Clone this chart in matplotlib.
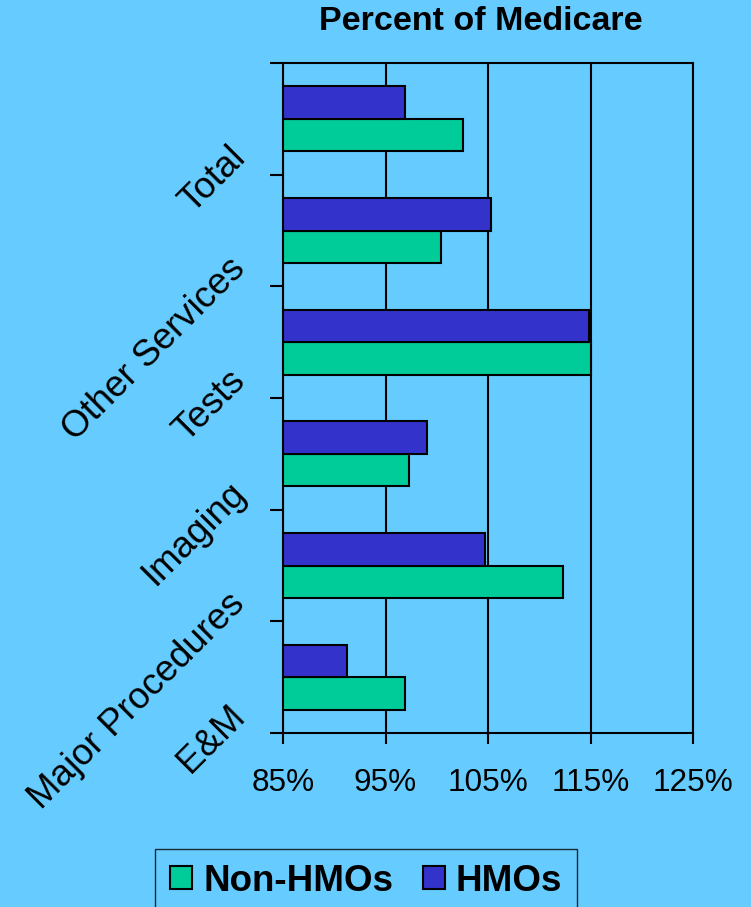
import matplotlib.pyplot as plt
import numpy as np

plt.rcParams["font.family"] = ["Liberation Sans", "DejaVu Sans"]

# data, bottom to top
categories = ["E&M", "Major Procedures", "Imaging", "Tests", "Other Services", "Total"]
non_hmo = [96.9, 112.3, 97.3, 115.0, 100.4, 102.6]
hmo = [91.2, 104.7, 99.0, 114.9, 105.3, 96.9]
xticks = [85, 95, 105, 115, 125]
xtick_labels = ["85%", "95%", "105%", "115%", "125%"]

bg = "#66CCFF"
green = "#00CC99"
blue = "#3333CC"

fig = plt.figure(figsize=(7.51, 9.07), dpi=100, facecolor=bg)
ax = fig.add_axes([283/751, 1-733/907, 410/751, 670/907])
ax.set_facecolor(bg)

y = np.arange(len(categories))
h = 0.29
base = 85
b1 = ax.barh(y - h/2, np.array(non_hmo) - base, height=h, left=base,
             color=green, edgecolor="black", linewidth=1.5, zorder=3)
b2 = ax.barh(y + h/2, np.array(hmo) - base, height=h, left=base,
             color=blue, edgecolor="black", linewidth=1.5, zorder=3)

ax.set_xlim(85, 125)
ax.set_ylim(-0.5, len(categories) - 0.5)
ax.set_xticks(xticks)
ax.set_xticklabels(xtick_labels, fontsize=22.7)
ax.set_yticks(np.arange(len(categories) + 1) - 0.5)
ax.set_yticklabels([])
ax.tick_params(axis="x", direction="out", length=8, width=1.5, pad=17)
ax.tick_params(axis="y", direction="out", length=9.5, width=1.5)
ax.xaxis.grid(True, color="black", linewidth=1.5, zorder=1)
ax.set_axisbelow(True)
for s in ax.spines.values():
    s.set_linewidth(1.5)
    s.set_color("black")

# rotated category labels
for i, c in enumerate(categories):
    ax.text(-0.105, i - 0.3, c, transform=ax.get_yaxis_transform(),
            rotation=45, rotation_mode="anchor", ha="right", va="center",
            fontsize=26.5)

fig.text(481/751, 1 - 22/907, "Percent of Medicare", ha="center", va="center",
         fontsize=24.5, fontweight="bold")

fig.legend([b1, b2], ["Non-HMOs", "HMOs"], loc="upper center",
           bbox_to_anchor=(366/751, 1 - 849/907), ncol=2,
           prop={"weight": "bold", "size": 26.5}, frameon=True,
           facecolor=bg, edgecolor="black", fancybox=False,
           handlelength=0.6, handleheight=0.6, handletextpad=0.3,
           columnspacing=0.8, borderpad=0.4, borderaxespad=0)

plt.savefig("out.png", dpi=100, facecolor=bg)
